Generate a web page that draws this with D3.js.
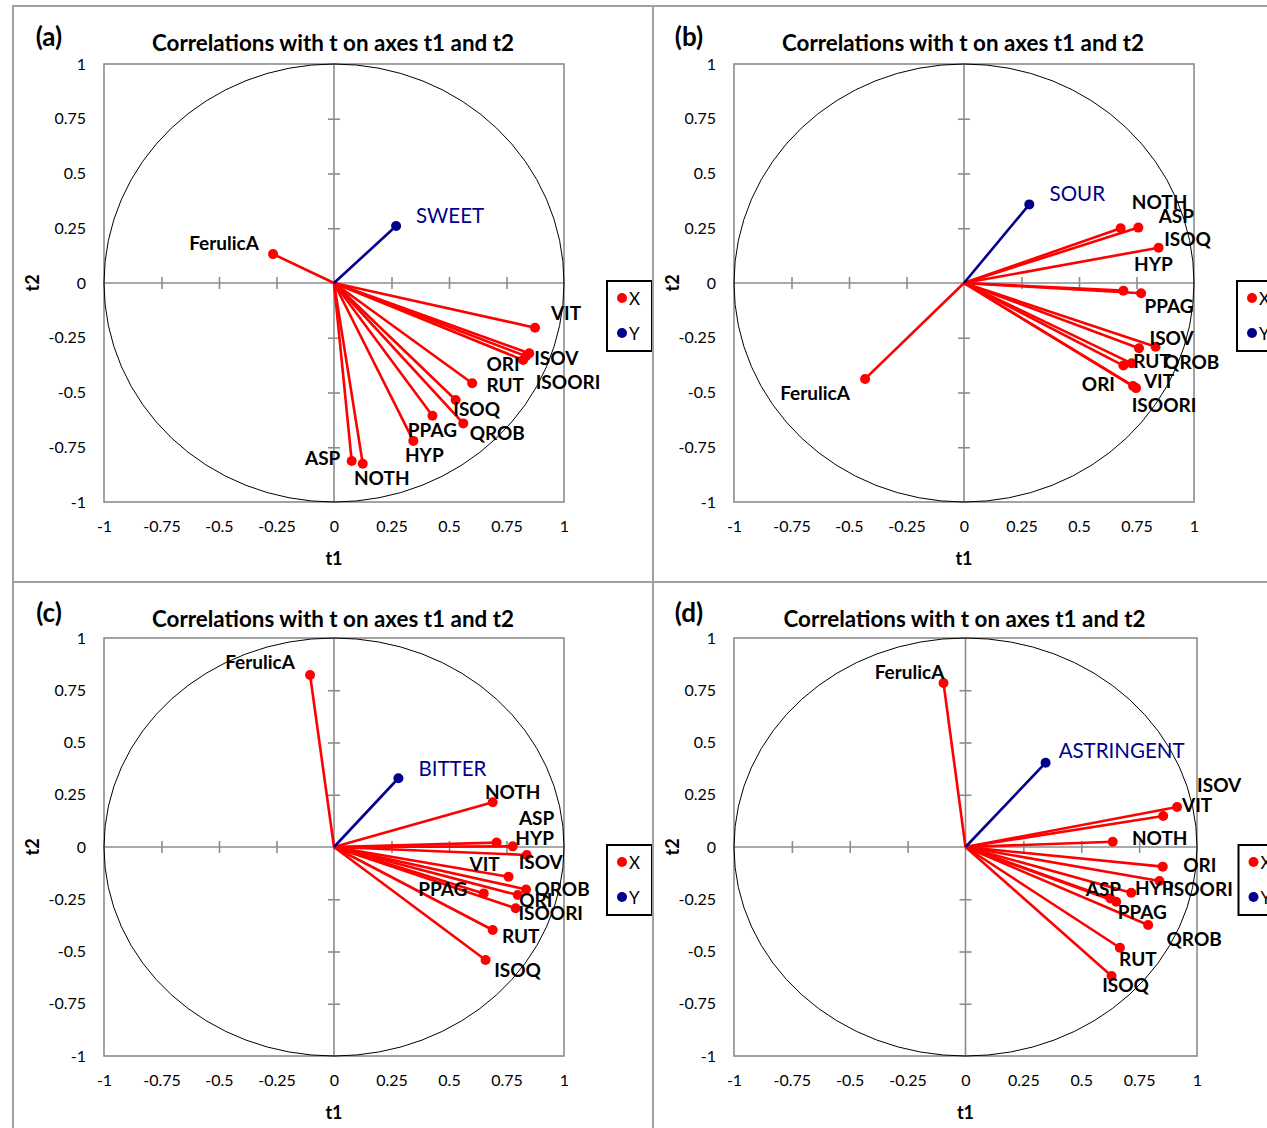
<!DOCTYPE html>
<html>
<head>
<meta charset="utf-8">
<script src="https://cdn.jsdelivr.net/npm/d3@7"></script>
<style>
  html, body { margin: 0; padding: 0; background: #fff; }
  svg { display: block; }
  text { font-family: Lato, "Open Sans", sans-serif; }
</style>
</head>
<body>
<svg id="chart" width="1267" height="1128"></svg>
<script>
// Explanatory (X) variables, shared by all four panels
const xVars = ["FerulicA", "VIT", "ISOV", "ORI", "ISOORI", "RUT", "ISOQ", "QROB", "PPAG", "HYP", "ASP", "NOTH"];

// Correlations of the X variables with t1 / t2, one pair of arrays per panel
const t1_a = [-0.265, 0.874, 0.849, 0.822, 0.835, 0.601, 0.529, 0.562, 0.428, 0.345, 0.077, 0.125];
const t2_a = [ 0.132, -0.204, -0.321, -0.352, -0.334, -0.458, -0.534, -0.641, -0.606, -0.721, -0.813, -0.825];

const t1_b = [-0.430, 0.735, 0.833, 0.693, 0.748, 0.761, 0.846, 0.729, 0.770, 0.693, 0.758, 0.681];
const t2_b = [-0.438, -0.470, -0.291, -0.377, -0.480, -0.298, 0.161, -0.367, -0.047, -0.035, 0.253, 0.250];

const t1_c = [-0.104, 0.759, 0.838, 0.799, 0.790, 0.690, 0.659, 0.835, 0.651, 0.777, 0.707, 0.690];
const t2_c = [ 0.823, -0.142, -0.038, -0.230, -0.293, -0.397, -0.541, -0.203, -0.222, 0.003, 0.021, 0.214];

const t1_d = [-0.095, 0.914, 0.854, 0.852, 0.838, 0.667, 0.631, 0.789, 0.651, 0.716, 0.626, 0.636];
const t2_d = [ 0.785, 0.191, 0.148, -0.094, -0.163, -0.482, -0.617, -0.373, -0.262, -0.219, -0.246, 0.025];

// Response (Y) variable of each panel and its correlations
const yVars = ["SWEET", "SOUR", "BITTER", "ASTRINGENT"];
const yT1 = [0.270, 0.284, 0.280, 0.346];
const yT2 = [0.260, 0.359, 0.329, 0.403];

const panelTags = ["(a)", "(b)", "(c)", "(d)"];
const tickValues = [-1, -0.75, -0.5, -0.25, 0, 0.25, 0.5, 0.75, 1];
const tickLabels = ["-1", "-0.75", "-0.5", "-0.25", "0", "0.25", "0.5", "0.75", "1"];
const legendLabels = ["X", "Y"];
const titleText = "Correlations with t on axes t1 and t2";

// ---- layout (pixels) ----
const frames = [
  { x: 13,  y: 6,   w: 640, h: 576, plot: { l: 104, r: 564,  t: 64,  b: 502 } },
  { x: 653, y: 6,   w: 640, h: 576, plot: { l: 734, r: 1194, t: 64,  b: 502 } },
  { x: 13,  y: 582, w: 640, h: 576, plot: { l: 104, r: 564,  t: 638, b: 1056 } },
  { x: 653, y: 582, w: 640, h: 576, plot: { l: 734, r: 1197, t: 638, b: 1056 } }
];

// label offsets from each point (dx, dy), in the order of xVars, then the Y variable
const labelOffsets = [
  [[-49,-12],[31,-15],[27,4],[-20,3],[42,25],[33,1],[21,9],[34,9],[0,14],[11,14],[-29,-4],[19,14],[54,-11]],
  [[-50,14],[26,-5],[16,-9],[-25,18],[28,16],[13,12],[29,-9],[60,-2],[28,12],[30,-27],[38,-12],[39,-27],[48,-11]],
  [[-50,-13],[-24,-13],[14,7],[18,4],[35,4],[28,6],[32,9],[36,-1],[-41,-5],[22,-9],[40,-25],[20,-11],[54,-10]],
  [[-34,-11],[20,-3],[56,-32],[37,-2],[41,7],[18,11],[14,9],[46,14],[26,10],[23,-5],[-7,-10],[47,-4],[76,-13]]
];

const t1s = [t1_a, t1_b, t1_c, t1_d];
const t2s = [t2_a, t2_b, t2_c, t2_d];

const RED = "#ff0000";
const NAVY = "#00008b";
const GRID = "#8c8c8c";

const svg = d3.select("#chart");

frames.forEach((f, p) => {
  const g = svg.append("g");
  const P = f.plot;
  const x = d3.scaleLinear().domain([-1, 1]).range([P.l, P.r]);
  const y = d3.scaleLinear().domain([-1, 1]).range([P.b, P.t]);

  // chart frame
  g.append("rect")
    .attr("x", f.x).attr("y", f.y).attr("width", f.w).attr("height", f.h)
    .attr("fill", "#fff").attr("stroke", "#a0a0a0").attr("stroke-width", 2);

  // panel tag and title
  g.append("text").attr("x", f.x + 36).attr("y", f.y + 30)
    .attr("text-anchor", "middle").attr("dominant-baseline", "central")
    .attr("font-size", 26).attr("font-weight", "bold").text(panelTags[p]);
  g.append("text").attr("x", x(0) - 1).attr("y", f.y + 36)
    .attr("text-anchor", "middle").attr("dominant-baseline", "central")
    .attr("font-size", 22.4).attr("font-weight", "bold").text(titleText);

  // plot area border
  g.append("rect")
    .attr("x", P.l).attr("y", P.t).attr("width", P.r - P.l).attr("height", P.b - P.t)
    .attr("fill", "none").attr("stroke", GRID).attr("stroke-width", 1.6);

  // tick labels on the outer edges
  const xAxis = d3.axisBottom(x).tickValues(tickValues)
    .tickFormat((d, i) => tickLabels[i]).tickSize(0).tickPadding(16);
  const gx = g.append("g").attr("transform", `translate(0,${P.b})`).call(xAxis);
  const yAxis = d3.axisLeft(y).tickValues(tickValues)
    .tickFormat((d, i) => tickLabels[i]).tickSize(0).tickPadding(18);
  const gy = g.append("g").attr("transform", `translate(${P.l},0)`).call(yAxis);
  [gx, gy].forEach(a => {
    a.select(".domain").remove();
    a.selectAll("text").attr("font-size", 16).attr("fill", "#000")
      .attr("font-family", "Lato, sans-serif");
  });
  gx.selectAll("text").attr("dy", "0.35em").attr("y", 24);

  // central axes with crossing ticks
  const inner = tickValues.filter(v => v !== 0 && Math.abs(v) !== 1);
  [d3.axisBottom, d3.axisTop].forEach(fn => {
    const a = g.append("g").attr("transform", `translate(0,${y(0)})`)
      .call(fn(x).tickValues(inner).tickSize(6).tickFormat(""));
    a.select(".domain").remove();
    a.selectAll("line").attr("stroke", GRID).attr("stroke-width", 1.6);
  });
  [d3.axisLeft, d3.axisRight].forEach(fn => {
    const a = g.append("g").attr("transform", `translate(${x(0)},0)`)
      .call(fn(y).tickValues(inner).tickSize(6).tickFormat(""));
    a.select(".domain").remove();
    a.selectAll("line").attr("stroke", GRID).attr("stroke-width", 1.6);
  });
  g.append("line").attr("x1", x(-1)).attr("x2", x(1)).attr("y1", y(0)).attr("y2", y(0))
    .attr("stroke", GRID).attr("stroke-width", 1.6);
  g.append("line").attr("x1", x(0)).attr("x2", x(0)).attr("y1", y(-1)).attr("y2", y(1))
    .attr("stroke", GRID).attr("stroke-width", 1.6);

  // unit correlation circle
  g.append("ellipse")
    .attr("cx", x(0)).attr("cy", y(0))
    .attr("rx", x(1) - x(0)).attr("ry", y(0) - y(1))
    .attr("fill", "none").attr("stroke", "#000").attr("stroke-width", 1);

  // axis titles
  g.append("text").attr("x", x(0)).attr("y", P.b + 56)
    .attr("text-anchor", "middle").attr("dominant-baseline", "central")
    .attr("font-size", 18).attr("font-weight", "bold").text("t1");
  g.append("text")
    .attr("transform", `translate(${f.x + 19},${y(0)}) rotate(-90)`)
    .attr("text-anchor", "middle").attr("dominant-baseline", "central")
    .attr("font-size", 18).attr("font-weight", "bold").text("t2");

  // X variable vectors
  const pts = xVars.map((name, i) => ({ name, t1: t1s[p][i], t2: t2s[p][i], off: labelOffsets[p][i] }));
  g.append("g").selectAll("line").data(pts).join("line")
    .attr("x1", x(0)).attr("y1", y(0))
    .attr("x2", d => x(d.t1)).attr("y2", d => y(d.t2))
    .attr("stroke", RED).attr("stroke-width", 2.6);
  g.append("g").selectAll("circle").data(pts).join("circle")
    .attr("cx", d => x(d.t1)).attr("cy", d => y(d.t2)).attr("r", 5).attr("fill", RED);
  g.append("g").selectAll("text").data(pts).join("text")
    .attr("x", d => x(d.t1) + d.off[0]).attr("y", d => y(d.t2) + d.off[1])
    .attr("text-anchor", "middle").attr("dominant-baseline", "central")
    .attr("font-size", 19).attr("font-weight", "bold").attr("fill", "#000")
    .text(d => d.name);

  // Y variable vector
  const yo = labelOffsets[p][12];
  g.append("line").attr("x1", x(0)).attr("y1", y(0))
    .attr("x2", x(yT1[p])).attr("y2", y(yT2[p]))
    .attr("stroke", NAVY).attr("stroke-width", 2.6);
  g.append("circle").attr("cx", x(yT1[p])).attr("cy", y(yT2[p])).attr("r", 5).attr("fill", NAVY);
  g.append("text").attr("x", x(yT1[p]) + yo[0]).attr("y", y(yT2[p]) + yo[1])
    .attr("text-anchor", "middle").attr("dominant-baseline", "central")
    .attr("font-size", 20.5).attr("fill", NAVY).text(yVars[p]);

  // legend
  const lx = x(0) + 273, ly = y(0) - 2;
  const lg = g.append("g").attr("transform", `translate(${lx},${ly})`);
  lg.append("rect").attr("width", 45).attr("height", 70)
    .attr("fill", "#fff").attr("stroke", "#000").attr("stroke-width", 2);
  [RED, NAVY].forEach((c, i) => {
    lg.append("circle").attr("cx", 15).attr("cy", 17 + i * 35).attr("r", 5).attr("fill", c);
    lg.append("text").attr("x", 22).attr("y", 17 + i * 35)
      .attr("dominant-baseline", "central").attr("font-size", 17).text(legendLabels[i]);
  });
});
</script>
</body>
</html>
